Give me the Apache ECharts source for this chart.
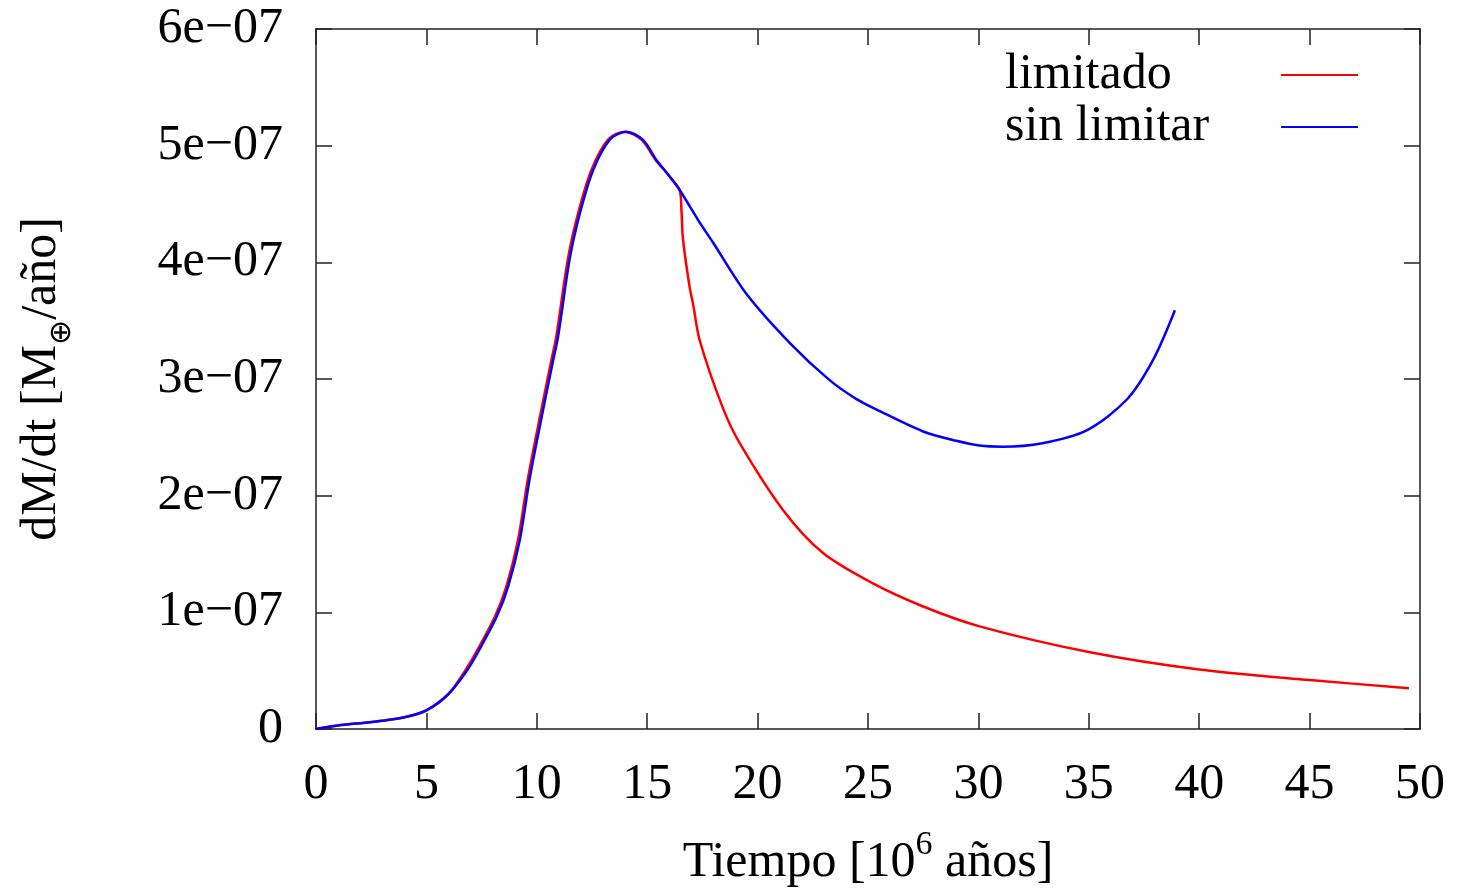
<!DOCTYPE html>
<html>
<head>
<meta charset="utf-8">
<script src="https://cdn.jsdelivr.net/npm/echarts@6/dist/echarts.min.js"></script>
<style>
html,body{margin:0;padding:0;background:#fff;}
#c{width:1459px;height:895px;}
</style>
</head>
<body>
<div id="c"></div>
<script>
// Time in 10^6 años; rates in units of 1e-7 M⊕/año
const timeLimitado = [0, 1, 2, 3, 4, 5, 6, 6.72, 7.32, 8.12, 8.62, 9.15, 9.6, 10.21, 10.66, 10.88, 11.41, 11.87, 12.47, 13.22, 13.98, 14.75, 15.37, 16.0, 16.47, 16.55, 16.62, 16.92, 17.07, 17.38, 18.43, 19.19, 21.14, 22.95, 25.2, 27.5, 30.05, 35, 40, 45, 49.5];
const rateLimitado = [0, 0.03, 0.05, 0.07, 0.1, 0.16, 0.3, 0.49, 0.68, 0.97, 1.22, 1.62, 2.15, 2.74, 3.16, 3.36, 4.03, 4.42, 4.79, 5.05, 5.12, 5.05, 4.88, 4.74, 4.62, 4.45, 4.2, 3.79, 3.65, 3.33, 2.75, 2.45, 1.88, 1.51, 1.25, 1.05, 0.88, 0.66, 0.51, 0.42, 0.35];
const timeSinLimitar = [0, 1, 2, 3, 4, 5, 6, 6.8, 7.4, 8.2, 8.7, 9.23, 9.68, 10.29, 10.74, 10.96, 11.49, 11.95, 12.55, 13.3, 14.06, 14.81, 15.41, 16.0, 16.47, 17.38, 17.98, 19.49, 21.45, 23.26, 24.46, 25.37, 27.5, 29.0, 30.05, 31.1, 32.9, 34.9, 36.7, 37.9, 38.9];
const rateSinLimitar = [0, 0.03, 0.05, 0.07, 0.1, 0.16, 0.3, 0.49, 0.68, 0.97, 1.22, 1.62, 2.15, 2.74, 3.16, 3.36, 4.03, 4.42, 4.79, 5.05, 5.12, 5.05, 4.88, 4.74, 4.62, 4.34, 4.17, 3.73, 3.31, 2.99, 2.83, 2.74, 2.55, 2.47, 2.43, 2.42, 2.45, 2.56, 2.82, 3.16, 3.59];
const seriesNames = ['limitado', 'sin limitar'];
const xTickLabels = ['0', '5', '10', '15', '20', '25', '30', '35', '40', '45', '50'];
const yTickLabels = ['0', '1e\u221207', '2e\u221207', '3e\u221207', '4e\u221207', '5e\u221207', '6e\u221207'];

const FONT = '"Liberation Serif", "DejaVu Serif", serif';
const FS = 50;
const pairs = (xs, ys) => xs.map((x, i) => [x, ys[i]]);

const chart = echarts.init(document.getElementById('c'), null, {renderer: 'canvas'});
const axisLine = {show: true, onZero: false, lineStyle: {color: '#222', width: 1.5}};
const tickStyle = {show: true, inside: true, length: 16, lineStyle: {color: '#222', width: 1.5}};
chart.setOption({
  animation: false,
  backgroundColor: '#fff',
  grid: {left: 316, right: 39, top: 29, bottom: 166, containLabel: false},
  legend: {
    orient: 'vertical',
    left: 1000,
    top: 44,
    align: 'right',
    itemGap: 0,
    itemWidth: 77,
    itemHeight: 2,
    icon: 'rect',
    formatter: name => '{t|' + name + '}',
    textStyle: {fontFamily: FONT, fontSize: FS, color: '#000', lineHeight: 52,
      rich: {t: {fontFamily: FONT, fontSize: FS, color: '#000', width: 271, align: 'left', lineHeight: 52}}},
    data: seriesNames
  },
  xAxis: [{
    type: 'value', min: 0, max: 50, interval: 5, position: 'bottom',
    axisLine: axisLine, axisTick: tickStyle, splitLine: {show: false},
    axisLabel: {margin: 31, fontFamily: FONT, fontSize: FS, color: '#000',
      formatter: v => xTickLabels[Math.round(v / 5)]},
    name: '{a|Tiempo [10}{sup|6}{a| años]}',
    nameLocation: 'middle', nameGap: 99,
    nameTextStyle: {rich: {
      a: {fontFamily: FONT, fontSize: FS, color: '#000', lineHeight: 70, verticalAlign: 'middle'},
      sup: {fontFamily: FONT, fontSize: 34, color: '#000', lineHeight: 70, verticalAlign: 'top'}
    }}
  }, {
    type: 'value', min: 0, max: 50, interval: 5, position: 'top',
    axisLine: axisLine, axisTick: tickStyle, axisLabel: {show: false}, splitLine: {show: false}
  }],
  yAxis: [{
    type: 'value', min: 0, max: 6, interval: 1, position: 'left',
    axisLine: axisLine, axisTick: tickStyle, splitLine: {show: false},
    axisLabel: {margin: 33, fontFamily: FONT, fontSize: FS, color: '#000',
      formatter: v => yTickLabels[Math.round(v)]},
    name: '{a|dM/dt [M}{sub|\u2295}{a|/a\u00f1o]}',
    nameLocation: 'middle', nameGap: 239, nameRotate: 90,
    nameTextStyle: {rich: {
      a: {fontFamily: FONT, fontSize: FS, color: '#000', lineHeight: 70, verticalAlign: 'middle'},
      sub: {fontFamily: '"DejaVu Sans", sans-serif', fontSize: 30, color: '#000', lineHeight: 70, verticalAlign: 'bottom'}
    }}
  }, {
    type: 'value', min: 0, max: 6, interval: 1, position: 'right',
    axisLine: axisLine, axisTick: tickStyle, axisLabel: {show: false}, splitLine: {show: false}
  }],
  series: [{
    name: seriesNames[0], type: 'line', data: pairs(timeLimitado, rateLimitado),
    showSymbol: false, symbol: 'none', smooth: 0.3,
    lineStyle: {color: '#ff0000', width: 2.5}, itemStyle: {color: '#ff0000'}
  }, {
    name: seriesNames[1], type: 'line', data: pairs(timeSinLimitar, rateSinLimitar),
    showSymbol: false, symbol: 'none', smooth: 0.3,
    lineStyle: {color: '#0000ff', width: 2.5}, itemStyle: {color: '#0000ff'}
  }]
});
</script>
</body>
</html>
